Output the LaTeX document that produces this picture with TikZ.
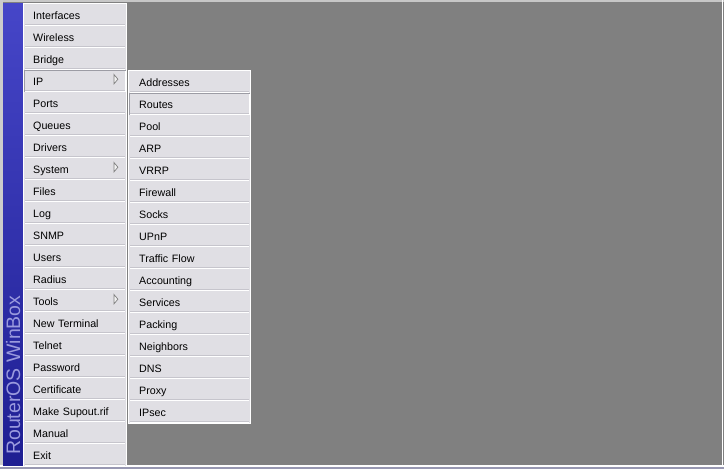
\documentclass[tikz,border=0pt]{standalone}
\usepackage{fontspec}
\setmainfont{Liberation Sans}
\usepackage{tikz}
\definecolor{desk}{HTML}{808080}
\definecolor{menubg}{HTML}{E0DFE4}
\definecolor{sepgray}{HTML}{C6C5CC}
\definecolor{bevel}{HTML}{9C9CA4}
\definecolor{striptop}{HTML}{4646C8}
\definecolor{stripbot}{HTML}{1E1E92}
\definecolor{striptext}{HTML}{9A9ADE}
\definecolor{taskbar}{HTML}{9898B2}
\tikzstyle{item}=[rectangle, anchor=north west, fill=menubg, inner sep=0pt, minimum height=22pt, text height=7.7pt, text depth=0pt, align=left, font=\fontsize{10.7}{12}\selectfont]
\tikzstyle{mainitem}=[item, inner xsep=9pt, text width=84pt]
\tikzstyle{subitem}=[item, inner xsep=10pt, text width=101pt]
\tikzstyle{sepw}=[draw=white, line width=1pt]
\tikzstyle{sepg}=[draw=sepgray, line width=0.8pt]
\tikzstyle{subarrow}=[draw=desk, fill=white!95!black, line width=0.7pt]
\newcommand{\sunkenbox}[1]{%
  \draw[bevel, line width=1pt] ([shift={(0.5pt,0.5pt)}]#1.south west) |- ([shift={(-0.5pt,-0.5pt)}]#1.north east);
  \draw[white, line width=1pt] ([shift={(0.5pt,0.5pt)}]#1.south west) -| ([shift={(-0.5pt,-0.5pt)}]#1.north east);
}
\begin{document}
\begin{tikzpicture}[x=1pt, y=-1pt]
	%The desktop
	\fill[desk] (0,0) rectangle (724,469);
	\fill[black!22] (0,0) rectangle (724,1.7);
	\fill[white] (721.5,0) rectangle (722.5,465);
	\fill[white] (0,465) rectangle (724,466.5);
	\fill[taskbar] (0,466.5) rectangle (724,469);
	\fill[black!20] (0,0) rectangle (3,465);
	
	%The side strip
	\shade[top color=striptop, bottom color=stripbot] (3,3) rectangle (23,465);
	\node[rotate=90, anchor=base west, inner sep=0pt, text=striptext, font=\fontsize{19.5}{20}\selectfont] (brand) at (20,455) {RouterOS WinBox};
	
	%The main menu
	\fill[white] (23,3) rectangle (127,466);
	\foreach \name [count=\i from 0] in {Interfaces, Wireless, Bridge, IP, Ports, Queues, Drivers, System, Files, Log, SNMP, Users, Radius, Tools, New Terminal, Telnet, Password, Certificate, Make Supout.rif, Manual, Exit}
		\node[mainitem] (m\i) at (24,{4+22*\i}) {\name};
	\foreach \i in {0,...,20} {
		\draw[sepg] ([shift={(1pt,1.6pt)}]m\i.south west) -- ([shift={(-1pt,1.6pt)}]m\i.south east);
		\draw[sepw] ([shift={(1pt,0.5pt)}]m\i.south west) -- ([shift={(-1pt,0.5pt)}]m\i.south east);
	}
	\foreach \k in {3,7,13}
		\draw[subarrow] ([shift={(-12.5pt,-2.75pt)}]m\k.east) -- ++(0,-9.5) -- ++(4,4.75) -- cycle;
	
	%The IP submenu
	\fill[white] (128,70) rectangle (251,424);
	\foreach \name [count=\i from 0] in {Addresses, Routes, Pool, ARP, VRRP, Firewall, Socks, UPnP, Traffic Flow, Accounting, Services, Packing, Neighbors, DNS, Proxy, IPsec}
		\node[subitem] (s\i) at (129,{71+22*\i}) {\name};
	\foreach \i in {0,...,15} {
		\draw[sepg] ([shift={(1pt,1.6pt)}]s\i.south west) -- ([shift={(-1pt,1.6pt)}]s\i.south east);
		\draw[sepw] ([shift={(1pt,0.5pt)}]s\i.south west) -- ([shift={(-1pt,0.5pt)}]s\i.south east);
	}
	
	%The open entries
	\sunkenbox{m3}
	\sunkenbox{s1}
\end{tikzpicture}
\end{document}
